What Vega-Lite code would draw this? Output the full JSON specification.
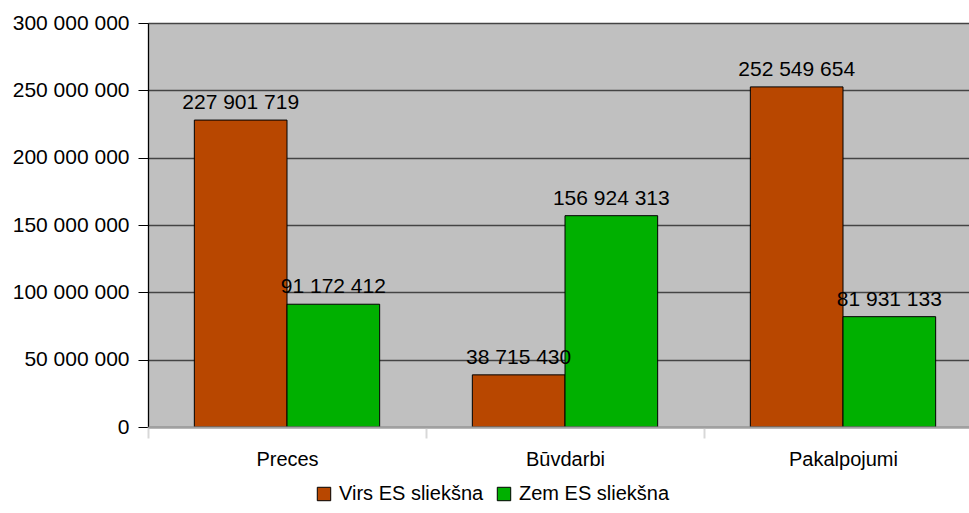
{
  "$schema": "https://vega.github.io/schema/vega-lite/v6.json",
  "autosize": {"type": "none"},
  "padding": {"left": 148, "top": 23, "right": 0, "bottom": 86},
  "width": 821,
  "height": 404,
  "data": {"values": [
    {"cat": "Preces", "series": "Virs ES sliekšna", "value": 227901719},
    {"cat": "Preces", "series": "Zem ES sliekšna", "value": 91172412},
    {"cat": "Būvdarbi", "series": "Virs ES sliekšna", "value": 38715430},
    {"cat": "Būvdarbi", "series": "Zem ES sliekšna", "value": 156924313},
    {"cat": "Pakalpojumi", "series": "Virs ES sliekšna", "value": 252549654},
    {"cat": "Pakalpojumi", "series": "Zem ES sliekšna", "value": 81931133}
  ]},
  "config": {
    "locale": {"number": {"decimal": ",", "thousands": " ", "grouping": [3], "currency": ["", ""]}},
    "font": "Liberation Sans",
    "view": {"fill": "#C0C0C0", "stroke": null}
  },
  "encoding": {
    "x": {"field": "cat", "type": "nominal", "sort": ["Preces", "Būvdarbi", "Pakalpojumi"],
      "scale": {"range": [0, 834], "paddingInner": 0, "paddingOuter": 0},
      "axis": {"title": null, "labelAngle": 0, "tickBand": "extent", "tickColor": "#D8D8D8", "tickWidth": 2, "tickSize": 11,
        "domain": true, "domainColor": "#A0A0A0", "domainWidth": 2, "labelPadding": 11,
        "labelFont": "Liberation Sans", "labelFontSize": 20, "labelColor": "#000000", "zindex": 1}},
    "xOffset": {"field": "series", "type": "nominal", "sort": ["Virs ES sliekšna", "Zem ES sliekšna"],
      "scale": {"paddingInner": 0, "paddingOuter": 0.5}},
    "y": {"field": "value", "type": "quantitative",
      "scale": {"domain": [0, 300000000]},
      "axis": {"title": null, "values": [0, 50000000, 100000000, 150000000, 200000000, 250000000, 300000000], "format": ",d",
        "gridColor": "#444444", "gridOpacity": 1, "gridWidth": 1.3, "domainColor": "#000000", "domainWidth": 1.3,
        "tickColor": "#000000", "tickSize": 10, "labelPadding": 9,
        "labelFont": "Liberation Sans", "labelFontSize": 21, "labelColor": "#000000"}}
  },
  "layer": [
    {
      "mark": {"type": "bar", "stroke": "#000000", "strokeWidth": 1},
      "encoding": {
        "color": {"field": "series", "type": "nominal",
          "scale": {"domain": ["Virs ES sliekšna", "Zem ES sliekšna"], "range": ["#B84700", "#00B000"]},
          "legend": {"title": null, "orient": "none", "legendX": 166, "legendY": 461, "direction": "horizontal",
            "symbolType": "square", "symbolSize": 180, "symbolStrokeColor": "#000000", "symbolStrokeWidth": 1,
            "labelFontSize": 20, "labelFont": "Liberation Sans", "labelColor": "#000000", "columnPadding": 10, "labelOffset": 5}}
      }
    },
    {
      "mark": {"type": "text", "dy": -11, "fontSize": 21, "font": "Liberation Sans", "color": "#000000", "baseline": "alphabetic"},
      "encoding": {"text": {"field": "value", "type": "quantitative", "format": ",d"}}
    }
  ]
}
